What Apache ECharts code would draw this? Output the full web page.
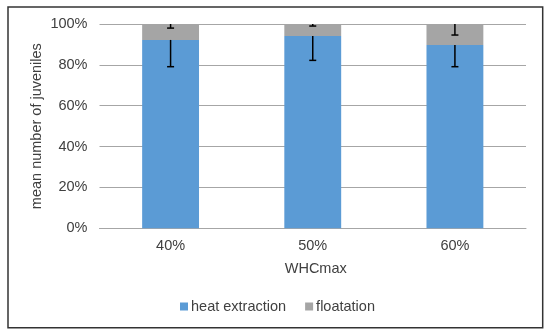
<!DOCTYPE html>
<html><head><meta charset="utf-8">
<script src="https://cdn.jsdelivr.net/npm/echarts@6/dist/echarts.min.js"></script>
<style>html,body{margin:0;padding:0;background:#fff}#c{width:550px;height:334px}</style>
</head><body><div id="c"></div>
<script>
var categories = ['40%', '50%', '60%'];
var heatExtraction = [92.2, 94.1, 89.7];
var floatation = [7.8, 5.9, 10.3];
var heatErr = [13.1, 11.9, 10.6];
var floatErr = [2.0, 1.0, 5.4];
var yTicks = [0, 20, 40, 60, 80, 100];

var chart = echarts.init(document.getElementById('c'));
var font = 'Liberation Sans, Arial, sans-serif';

function errData(base, err) {
  return categories.map(function (c, i) { return [i, base[i], err[i]]; });
}
var heatTop = heatExtraction.slice();
var floatTop = heatExtraction.map(function (v, i) { return v + floatation[i]; });

function renderErr(params, api) {
  var i = api.value(0), top = api.value(1), e = api.value(2);
  var p1 = api.coord([i, top]);
  var p2 = api.coord([i, top - e]);
  var hw = 3.5;
  return {
    type: 'group',
    children: [
      { type: 'line', shape: { x1: p1[0], y1: p1[1], x2: p2[0], y2: p2[1] }, style: { stroke: '#000', lineWidth: 1.5 } },
      { type: 'line', shape: { x1: p2[0] - hw, y1: p2[1], x2: p2[0] + hw, y2: p2[1] }, style: { stroke: '#000', lineWidth: 1.5 } }
    ]
  };
}

chart.setOption({
  animation: false,
  backgroundColor: '#fff',
  graphic: [{ type: 'rect', shape: { x: 8, y: 7, width: 534.7, height: 320.7 }, style: { fill: 'none', stroke: '#333', lineWidth: 1.5 }, z: 100 }],
  grid: { left: 99.5, right: 24, top: 24, bottom: 105.7, containLabel: false },
  legend: {
    data: ['heat extraction', 'floatation'],
    bottom: 20, left: 180, padding: 0,
    itemWidth: 8, itemHeight: 8, itemGap: 19,
    icon: 'rect',
    textStyle: { fontFamily: font, fontSize: 14.5, color: '#404040', padding: [0, 0, 0, -2] }
  },
  xAxis: {
    type: 'category', data: categories,
    name: 'WHCmax', nameLocation: 'middle', nameGap: 33, nameMoveOverlap: false,
    nameTextStyle: { fontFamily: font, fontSize: 14.5, color: '#404040', padding: [0, 0, 0, 6] },
    axisLine: { lineStyle: { color: '#a6a6a6', width: 1 } },
    axisTick: { show: false },
    axisLabel: { fontFamily: font, fontSize: 14.5, color: '#404040', margin: 10 }
  },
  yAxis: {
    type: 'value', min: 0, max: 100, interval: 20,
    name: 'mean number of juveniles', nameLocation: 'middle', nameGap: 55, nameMoveOverlap: false,
    nameTextStyle: { fontFamily: font, fontSize: 14.5, color: '#404040' },
    axisLine: { show: false }, axisTick: { show: false },
    splitLine: { lineStyle: { color: '#a6a6a6', width: 1 } },
    axisLabel: { fontFamily: font, fontSize: 14.5, color: '#404040', margin: 12, formatter: function (v) { return yTicks.indexOf(v) >= 0 ? v + '%' : ''; } }
  },
  series: [
    { name: 'heat extraction', type: 'bar', stack: 's', data: heatExtraction, barWidth: '40%', itemStyle: { color: '#5b9bd5' } },
    { name: 'floatation', type: 'bar', stack: 's', data: floatation, barWidth: '40%', itemStyle: { color: '#a5a5a5' } },
    { type: 'custom', renderItem: renderErr, data: errData(heatTop, heatErr), encode: { x: 0, y: 1 }, z: 10, silent: true },
    { type: 'custom', renderItem: renderErr, data: errData(floatTop, floatErr), encode: { x: 0, y: 1 }, z: 10, silent: true }
  ]
});
</script></body></html>
